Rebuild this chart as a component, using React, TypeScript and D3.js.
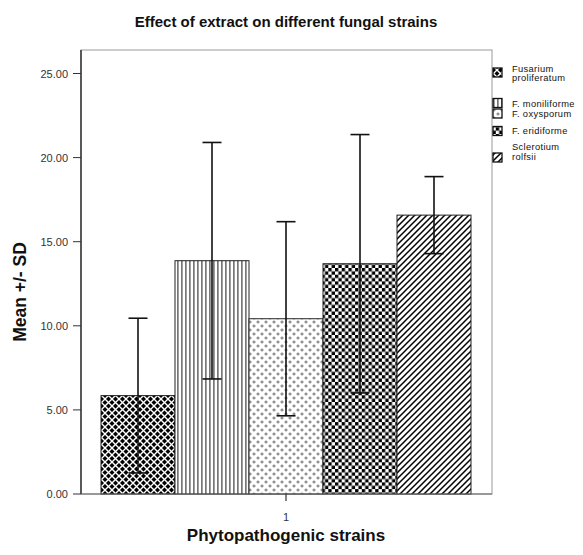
import React from "react";
import * as d3 from "d3";

const strains = ["Fusarium proliferatum", "F. moniliforme", "F. oxysporum", "F. eridiforme", "Sclerotium rolfsii"];
const legendLines = [["Fusarium", "proliferatum"], ["F. moniliforme"], ["F. oxysporum"], ["F. eridiforme"], ["Sclerotium", "rolfsii"]];
const means = [5.85, 13.87, 10.42, 13.69, 16.58];
const sds = [4.6, 7.03, 5.77, 7.68, 2.29];
const yTicks = [0, 5, 10, 15, 20, 25];
const groupLabel = "1";

const W = 583, H = 555;
const left = 81, right = 492, top = 50, bottom = 494;

export default function App() {
  const y = d3.scaleLinear().domain([0, 25]).range([bottom, 73.5]);
  const x = d3.scaleBand<string>().domain(strains).range([101, 471]).padding(0);
  const fmt = d3.format(".2f");
  const patIds = ["p0", "p1", "p2", "p3", "p4"];
  const font = "Arial, 'Liberation Sans', Helvetica, sans-serif";
  const legendSw = [68, 98.5, 109, 126.5, 153];
  const legendBase = [71.5, 106.5, 116.5, 134, 150];
  const capW = 19;

  return (
    <svg width={W} height={H} style={{ position: "absolute", left: 0, top: 0, background: "#fff" }} fontFamily={font}>
      <defs>
        <pattern id="p0" patternUnits="userSpaceOnUse" width="7" height="7">
          <rect width="7" height="7" fill="#000" />
          <path d="M-1,1 L1,-1 M0,7 L7,0 M6,8 L8,6" stroke="#fff" strokeWidth="1.4" />
          <path d="M-1,6 L1,8 M0,0 L7,7 M6,-1 L8,1" stroke="#fff" strokeWidth="1.4" />
        </pattern>
        <pattern id="p1" patternUnits="userSpaceOnUse" width="4" height="4">
          <rect width="4" height="4" fill="#fff" />
          <rect x="1" width="1.7" height="4" fill="#777" />
        </pattern>
        <pattern id="p2" patternUnits="userSpaceOnUse" width="8" height="8">
          <rect width="8" height="8" fill="#fff" />
          <path d="M2,0.5 V3.5 M0.5,2 H3.5 M6,4.5 V7.5 M4.5,6 H7.5" stroke="#888" strokeWidth="1.3" />
        </pattern>
        <pattern id="p3" patternUnits="userSpaceOnUse" width="6.7" height="6.7">
          <rect width="6.7" height="6.7" fill="#fff" />
          <rect width="3.35" height="3.35" fill="#000" />
          <rect x="3.35" y="3.35" width="3.35" height="3.35" fill="#000" />
        </pattern>
        <pattern id="p4" patternUnits="userSpaceOnUse" width="6" height="6">
          <rect width="6" height="6" fill="#fff" />
          <path d="M-1.5,1.5 L1.5,-1.5 M0,6 L6,0 M4.5,7.5 L7.5,4.5" stroke="#000" strokeWidth="1.5" />
        </pattern>
      </defs>

      <text x={286} y={27} textAnchor="middle" fontSize={15} fontWeight="bold" fill="#111">
        Effect of extract on different fungal strains
      </text>

      <rect x={left} y={top} width={right - left} height={bottom - top} fill="none" stroke="#999" strokeWidth={1} />

      {strains.map((s, i) => (
        <rect key={s} x={x(s)} y={y(means[i])} width={x.bandwidth()} height={bottom - y(means[i])}
          fill={`url(#${patIds[i]})`} stroke="#222" strokeWidth={1} />
      ))}

      {strains.map((s, i) => {
        const cx = (x(s) as number) + x.bandwidth() / 2;
        const y1 = y(means[i] + sds[i]);
        const y0 = y(means[i] - sds[i]);
        return (
          <g key={"e" + s} stroke="#111" strokeWidth={1.6}>
            <line x1={cx} x2={cx} y1={y1} y2={y0} />
            <line x1={cx - capW / 2} x2={cx + capW / 2} y1={y1} y2={y1} />
            <line x1={cx - capW / 2} x2={cx + capW / 2} y1={y0} y2={y0} />
          </g>
        );
      })}

      <line x1={left} x2={left} y1={top} y2={bottom} stroke="#333" strokeWidth={1.5} />
      <line x1={left} x2={right} y1={bottom} y2={bottom} stroke="#666" strokeWidth={1} />
      {yTicks.map((t) => (
        <g key={t}>
          <line x1={left - 8} x2={left} y1={y(t)} y2={y(t)} stroke="#333" strokeWidth={1} />
          <text x={68} y={y(t) + 4} textAnchor="end" fontSize={11} fill="#333">{fmt(t)}</text>
        </g>
      ))}
      <line x1={286} x2={286} y1={bottom} y2={bottom + 7} stroke="#333" strokeWidth={1.2} />
      <text x={286} y={521} textAnchor="middle" fontSize={11} fill="#333">{groupLabel}</text>

      <text x={286} y={541} textAnchor="middle" fontSize={17} fontWeight="bold" fill="#111">
        Phytopathogenic strains
      </text>
      <text transform={`translate(26,292) rotate(-90)`} textAnchor="middle" fontSize={17.5} fontWeight="bold" fill="#111">
        Mean +/- SD
      </text>

      {legendLines.map((lines, i) => (
        <g key={"l" + i}>
          <rect x={493} y={legendSw[i]} width={9} height={9} fill={`url(#${patIds[i]})`} stroke="#111" strokeWidth={1.3} />
          {lines.map((ln, j) => (
            <text key={j} x={512} y={legendBase[i] + j * 9.8} fontSize={9.3} letterSpacing={0.35} fill="#111">{ln}</text>
          ))}
        </g>
      ))}
    </svg>
  );
}
